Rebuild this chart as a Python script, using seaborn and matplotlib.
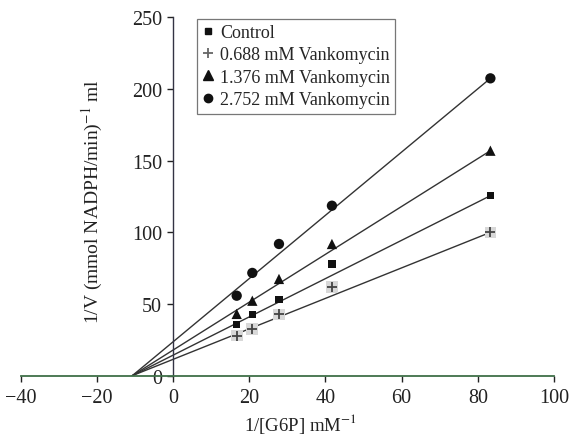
import numpy as np
import pandas as pd
import matplotlib
matplotlib.use("Agg")
import matplotlib.pyplot as plt
import seaborn as sns
from matplotlib.lines import Line2D

# Lineweaver-Burk data: 1/[G6P] (mM^-1) against 1/V
inv_g6p = [16.7, 20.8, 27.8, 41.7, 83.3]
control = [35.6, 42.6, 53.0, 77.9, 125.6]
vanko_0688 = [27.9, 32.6, 42.8, 61.7, 100.0]
vanko_1376 = [43.1, 52.3, 67.5, 91.9, 157.0]
vanko_2752 = [55.8, 71.7, 91.9, 118.6, 207.5]
series_labels = ["Control", "0.688 mM Vankomycin",
                 "1.376 mM Vankomycin", "2.752 mM Vankomycin"]
# common x-intercept (-1/Km) of the fitted lines
x_intercept = -10.7
x_ticks = [-40, -20, 0, 20, 40, 60, 80, 100]
y_ticks = [0, 50, 100, 150, 200, 250]

sns.set_style("ticks")
plt.rcParams["font.family"] = ["Liberation Serif", "DejaVu Serif"]
plt.rcParams["mathtext.fontset"] = "stix"

rows = []
for lab, vals in zip(series_labels, [control, vanko_0688, vanko_1376, vanko_2752]):
    for xv, yv in zip(inv_g6p, vals):
        rows.append({"x": xv, "y": yv, "series": lab})
df = pd.DataFrame(rows)

fig = plt.figure(figsize=(5.75, 4.39), dpi=100)
ax = fig.add_axes([0.036, 0.142, 0.9275, 0.816])

# regression lines from the common intercept to the last point
line_rows = []
for lab in series_labels:
    sub = df[df.series == lab]
    line_rows.append({"x": x_intercept, "y": 0.0, "series": lab})
    line_rows.append({"x": sub.x.iloc[-1], "y": sub.y.iloc[-1], "series": lab})
lines = pd.DataFrame(line_rows)
sns.lineplot(data=lines, x="x", y="y", units="series", estimator=None,
             color="#333333", linewidth=1.0, ax=ax, legend=False, zorder=2)

# plus markers sit on a soft grey patch
sub = df[df.series == series_labels[1]]
sns.scatterplot(data=sub, x="x", y="y", marker="s", s=70, color="#d8d8d8",
                edgecolor="none", ax=ax, legend=False, zorder=3)
sns.scatterplot(data=sub, x="x", y="y", marker="+", s=60, color="#444444",
                linewidth=1.3, ax=ax, legend=False, zorder=4)

styles = {series_labels[0]: ("s", 28), series_labels[2]: ("^", 55),
          series_labels[3]: ("o", 55)}
for lab, (m, sz) in styles.items():
    sub = df[df.series == lab]
    sns.scatterplot(data=sub, x="x", y="y", marker=m, s=sz, color="#111111",
                    edgecolor="none", ax=ax, legend=False, zorder=4)

ax.set_xlim(-40, 100)
ax.set_ylim(0, 250)
ax.set_xticks(x_ticks)
ax.set_yticks(y_ticks)
ax.set_xticklabels(["\u221240", "\u221220", "0", "20", "40", "60", "80", "100"])
ax.tick_params(axis="both", labelsize=14.5, colors="#222222", length=4,
               width=1.0, direction="out")
ax.tick_params(axis="x", pad=5)
ax.tick_params(axis="y", pad=4)
# the zero label sits just above the x axis line
ax.get_yticklabels()[0].set_verticalalignment("bottom")
ax.get_yticklabels()[0].set_y(-4)

for side in ["top", "right"]:
    ax.spines[side].set_visible(False)
ax.spines["left"].set_position(("data", 0))
ax.spines["left"].set_color("#333344")
ax.spines["left"].set_linewidth(1.0)
ax.spines["bottom"].set_color("#3f7048")
ax.spines["bottom"].set_linewidth(1.3)

ax.set_xlabel("1/[G6P] mM$^{-1}$", fontsize=13.5, color="#222222")
ax.set_ylabel("1/V (mmol NADPH/min)$^{-1}$ ml", fontsize=14, color="#222222")
ax.xaxis.set_label_coords(0.524, -0.098)
ax.yaxis.set_label_coords(0.158, 0.49)

# legend
handles = [
    Line2D([], [], linestyle="none", marker="s", markersize=5, color="#111111"),
    Line2D([], [], linestyle="none", marker="+", markersize=7, color="#666666",
           markeredgewidth=1.3),
    Line2D([], [], linestyle="none", marker="^", markersize=6.5, color="#111111"),
    Line2D([], [], linestyle="none", marker="o", markersize=6, color="#111111"),
]
leg = ax.legend(handles, series_labels, loc="upper left",
                bbox_to_anchor=(0.331, 0.997), fontsize=13, frameon=True,
                fancybox=False, handlelength=0.6, handletextpad=0.35,
                borderpad=0.3, labelspacing=0.3, borderaxespad=0.0)
leg.get_frame().set_edgecolor("#555555")
leg.get_frame().set_linewidth(0.9)

fig.savefig("out.png", dpi=100)
